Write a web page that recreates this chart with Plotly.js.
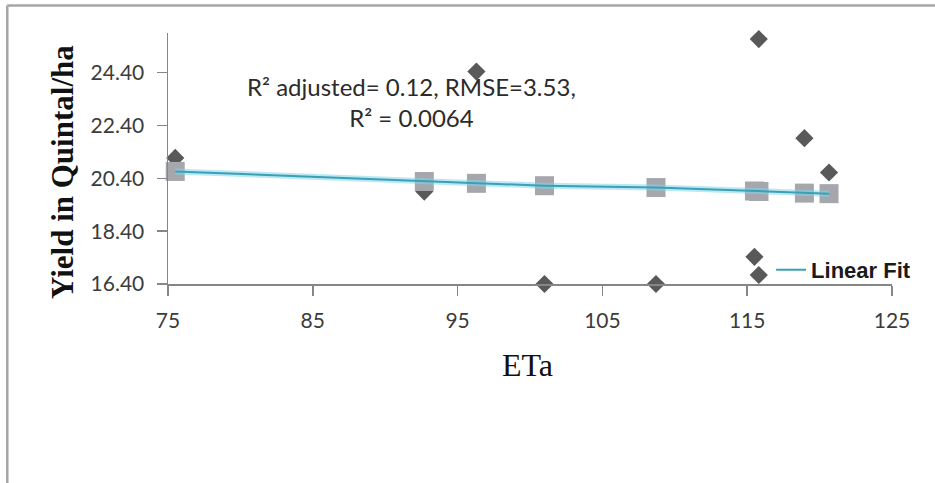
<!DOCTYPE html>
<html>
<head>
<meta charset="utf-8">
<script src="https://cdn.plot.ly/plotly-3.0.1.min.js"></script>
<style>
  html, body { margin: 0; padding: 0; background: #ffffff; }
  #chart { width: 935px; height: 483px; }
</style>
</head>
<body>
<div id="chart"></div>
<script>
// Actual evapotranspiration (ETa) for each plot
const eta = [75.5, 92.7, 96.3, 101.0, 108.7, 115.5, 115.8, 115.8, 118.95, 120.65];
// Observed yield (Quintal/ha)
const yieldObserved = [21.17, 19.9, 24.44, 16.4, 16.4, 17.43, 25.67, 16.74, 21.92, 20.62];
// Yield predicted by the linear fit at the same ETa values
const yieldPredicted = [20.66, 20.28, 20.21, 20.12, 20.05, 19.92, 19.9, 19.9, 19.84, 19.82];

// Axis ticks
const xTicks = [75, 85, 95, 105, 115, 125];
const yTicks = [16.4, 18.4, 20.4, 22.4, 24.4];

const fitStats = 'R² adjusted= 0.12, RMSE=3.53,<br>R² = 0.0064';

const tickFont = { family: 'Lato, "Open Sans", sans-serif', size: 21, color: '#3c3c3c' };
const axisGray = '#868686';

const traces = [
  {
    type: 'scatter', mode: 'markers', x: eta, y: yieldObserved,
    marker: { symbol: 'diamond', size: 14, color: '#595959' },
    showlegend: false, cliponaxis: false, hoverinfo: 'x+y'
  },
  {
    type: 'scatter', mode: 'markers', x: eta, y: yieldPredicted,
    marker: { symbol: 'square', size: 19, color: '#a5a7ac' },
    showlegend: false, cliponaxis: false, hoverinfo: 'x+y'
  },
  {
    // soft glow under the fit line
    type: 'scatter', mode: 'lines', x: eta, y: yieldPredicted,
    line: { color: 'rgba(130,215,235,0.55)', width: 6 },
    showlegend: false, hoverinfo: 'skip'
  },
  {
    type: 'scatter', mode: 'lines', x: eta, y: yieldPredicted,
    name: 'Linear Fit',
    line: { color: '#3c9fb4', width: 2 },
    showlegend: true
  }
];

const layout = {
  width: 935, height: 483,
  margin: { l: 168, r: 43, t: 33, b: 199, pad: 0 },
  paper_bgcolor: '#ffffff', plot_bgcolor: '#ffffff',
  showlegend: true,
  legend: {
    x: 0.833, y: 0.056, xanchor: 'left', yanchor: 'middle',
    bgcolor: 'rgba(0,0,0,0)', borderwidth: 0,
    font: { family: '"Liberation Sans", Arial, sans-serif', size: 22, color: '#1a1a1a', weight: 'bold' }
  },
  xaxis: {
    range: [75, 125], tickmode: 'array', tickvals: xTicks,
    ticktext: xTicks.map(String),
    showgrid: false, zeroline: false,
    showline: true, linecolor: axisGray, linewidth: 1.5,
    ticks: 'outside', ticklen: 10, tickwidth: 1.5, tickcolor: axisGray,
    tickfont: tickFont, ticklabelstandoff: 7
  },
  yaxis: {
    range: [16.4, 25.9], tickmode: 'array', tickvals: yTicks,
    ticktext: yTicks.map(v => v.toFixed(2)),
    showgrid: false, zeroline: false,
    showline: true, linecolor: axisGray, linewidth: 1.5,
    ticks: 'outside', ticklen: 10, tickwidth: 1.5, tickcolor: axisGray,
    tickfont: tickFont, ticklabelstandoff: 8
  },
  annotations: [
    {
      text: fitStats, xref: 'paper', yref: 'paper',
      x: 0.337, y: 0.727, xanchor: 'center', yanchor: 'middle',
      showarrow: false, align: 'center',
      font: { family: 'Lato, "Open Sans", sans-serif', size: 24, color: '#2b2b2b' }
    },
    {
      text: '<b>Yield in Quintal/ha</b>', xref: 'paper', yref: 'paper',
      x: -0.1464, y: 0.446, xanchor: 'center', yanchor: 'middle',
      textangle: -90, showarrow: false,
      font: { family: '"Liberation Serif", "Times New Roman", serif', size: 31, color: '#111111' }
    },
    {
      text: 'ETa', xref: 'paper', yref: 'paper',
      x: 0.497, y: -0.323, xanchor: 'center', yanchor: 'middle',
      showarrow: false,
      font: { family: '"Liberation Serif", "Times New Roman", serif', size: 32, color: '#111111' }
    }
  ],
  shapes: [
    // frame around the figure (top and left edges)
    { type: 'line', xref: 'paper', yref: 'paper', x0: -0.222, x1: 1.06, y0: 1.11, y1: 1.11,
      line: { color: '#a6a6a6', width: 2.5 } },
    { type: 'line', xref: 'paper', yref: 'paper', x0: -0.222, x1: -0.222, y0: 1.11, y1: -0.8,
      line: { color: '#a6a6a6', width: 2.5 } }
  ]
};

Plotly.newPlot('chart', traces, layout, { staticPlot: true, displayModeBar: false });
</script>
</body>
</html>
